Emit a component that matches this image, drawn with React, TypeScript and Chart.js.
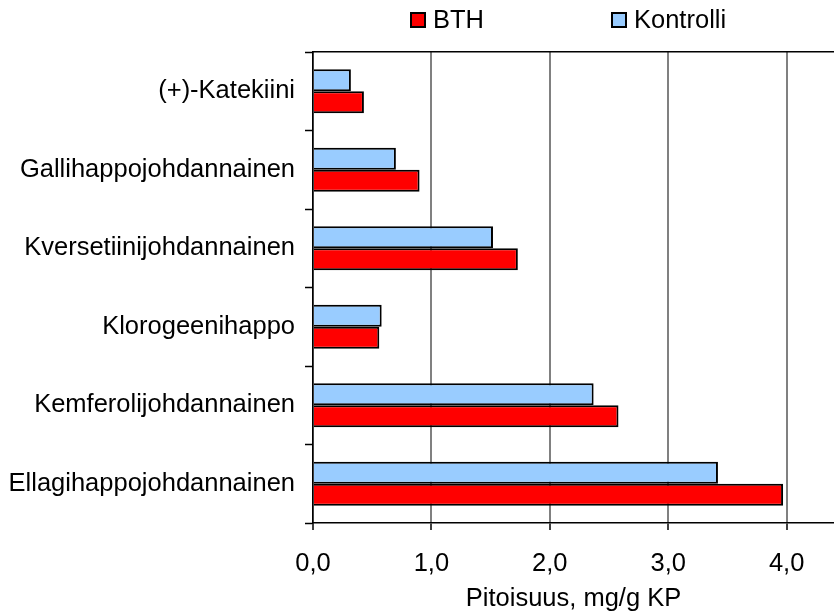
import React, { useEffect, useRef } from "react";
import { Chart, registerables } from "chart.js";

Chart.register(...registerables);

const categories = [
  "(+)-Katekiini",
  "Gallihappojohdannainen",
  "Kversetiinijohdannainen",
  "Klorogeenihappo",
  "Kemferolijohdannainen",
  "Ellagihappojohdannainen",
];
const kontrolliValues = [0.32, 0.7, 1.52, 0.58, 2.37, 3.42];
const bthValues = [0.43, 0.9, 1.73, 0.56, 2.58, 3.97];
const xTicks = [0, 1, 2, 3, 4];
const xTickLabels = ["0,0", "1,0", "2,0", "3,0", "4,0"];
const xTitle = "Pitoisuus, mg/g KP";
const legendOrder = ["BTH", "Kontrolli"];

const FONT = "'Liberation Sans', Arial, Helvetica, sans-serif";
const FS = 25.5;

const legendPlugin = {
  id: "customLegend",
  afterDraw(chart: any) {
    const ctx = chart.ctx as CanvasRenderingContext2D;
    const xs = [411, 612];
    const boxY = 13;
    const box = 14;
    ctx.save();
    ctx.font = `${FS}px ${FONT}`;
    ctx.textBaseline = "middle";
    ctx.textAlign = "left";
    legendOrder.forEach((name, i) => {
      const ds = chart.data.datasets.find((d: any) => d.label === name);
      if (!ds) return;
      const x = xs[i];
      ctx.fillStyle = ds.backgroundColor;
      ctx.fillRect(x, boxY, box, box);
      ctx.lineWidth = 2;
      ctx.strokeStyle = "#000";
      ctx.strokeRect(x, boxY, box, box);
      ctx.fillStyle = "#000";
      ctx.fillText(name, x + box + 8, boxY + box / 2 + 1);
    });
    ctx.restore();
  },
};

export default function App() {
  const ref = useRef<HTMLCanvasElement | null>(null);

  useEffect(() => {
    document.body.style.margin = "0";
    if (!ref.current) return;
    const chart = new Chart(ref.current, {
      type: "bar",
      data: {
        labels: categories,
        datasets: [
          {
            label: "Kontrolli",
            data: kontrolliValues,
            backgroundColor: "#99CCFF",
            borderColor: "#000",
            borderWidth: 2,
            categoryPercentage: 0.56,
            barPercentage: 1,
          },
          {
            label: "BTH",
            data: bthValues,
            backgroundColor: "#FF0000",
            borderColor: "#000",
            borderWidth: 2,
            categoryPercentage: 0.56,
            barPercentage: 1,
          },
        ],
      },
      options: {
        indexAxis: "y",
        responsive: false,
        animation: false,
        layout: { padding: { top: 52, left: 0, right: 0, bottom: 0 } },
        plugins: {
          legend: { display: false },
          tooltip: { enabled: false },
        },
        scales: {
          x: {
            type: "linear",
            position: "bottom",
            min: 0,
            max: 4.4,
            afterBuildTicks: (scale: any) => {
              scale.ticks = xTicks.map((v) => ({ value: v }));
            },
            afterFit: (scale: any) => {
              scale.height = 91;
            },
            grid: {
              color: "#808080",
              lineWidth: 2,
              drawOnChartArea: true,
              drawTicks: true,
              tickLength: 7,
              tickColor: "#000",
              tickWidth: 1.5,
            },
            border: { display: true, color: "#000", width: 1.5 },
            ticks: {
              color: "#000",
              font: { family: FONT, size: FS },
              padding: 19,
              maxRotation: 0,
              callback: (_v: any, i: number) => xTickLabels[i],
            },
            title: {
              display: true,
              text: xTitle,
              color: "#000",
              font: { family: FONT, size: FS },
              padding: { top: 4, bottom: 0 },
            },
          },
          x2: {
            type: "linear",
            position: "top",
            min: 0,
            max: 4.4,
            afterFit: (scale: any) => {
              scale.height = 0;
            },
            grid: { drawOnChartArea: false, drawTicks: false },
            ticks: { display: false },
            border: { display: true, color: "#000", width: 1.5 },
          },
          y: {
            type: "category",
            position: "left",
            afterFit: (scale: any) => {
              scale.width = 313;
            },
            grid: {
              offset: true,
              drawOnChartArea: false,
              drawTicks: true,
              tickLength: 8,
              tickColor: "#000",
              tickWidth: 1.5,
            },
            border: { display: true, color: "#000", width: 1.5 },
            ticks: {
              color: "#000",
              font: { family: FONT, size: FS },
              padding: 10,
              autoSkip: false,
            },
          },
        },
      },
      plugins: [legendPlugin],
    } as any);
    return () => chart.destroy();
  }, []);

  return (
    <div style={{ width: 834, height: 614 }}>
      <canvas ref={ref} width={834} height={614} />
    </div>
  );
}
